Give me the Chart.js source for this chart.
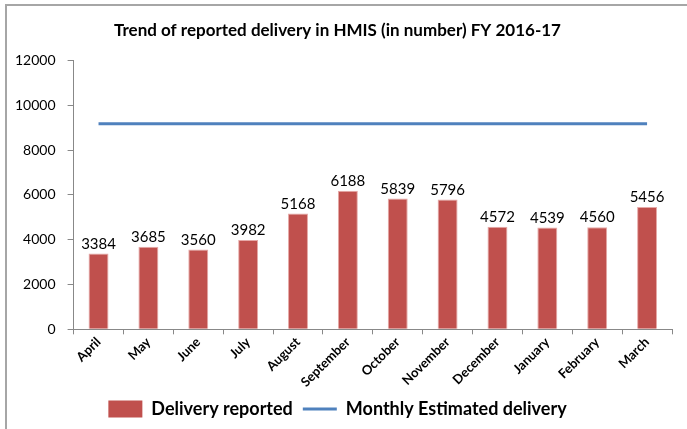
<!DOCTYPE html>
<html>
<head>
<meta charset="utf-8">
<script src="https://cdn.jsdelivr.net/npm/chart.js@4"></script>
<style>
  html, body { margin: 0; padding: 0; background: #fff; }
  #wrap { width: 687px; height: 429px; position: relative; }
</style>
</head>
<body>
<div id="wrap"><canvas id="deliveryChart" width="687" height="429"></canvas></div>
<script>
// Data
var months = ['April', 'May', 'June', 'July', 'August', 'September', 'October',
              'November', 'December', 'January', 'February', 'March'];
var deliveryReported = [3384, 3685, 3560, 3982, 5168, 6188, 5839, 5796, 4572, 4539, 4560, 5456];
var monthlyEstimated = [9170, 9170, 9170, 9170, 9170, 9170, 9170, 9170, 9170, 9170, 9170, 9170];
var yTicks = [0, 2000, 4000, 6000, 8000, 10000, 12000];

var FONT = "Lato, 'Open Sans', sans-serif";

// grey frame on the left and top, like the pasted excel chart
var framePlugin = {
    id: 'frame',
    beforeDraw: function(chart) {
        var c = chart.ctx;
        c.save();
        c.fillStyle = '#ffffff';
        c.fillRect(0, 0, chart.width, chart.height);
        c.fillStyle = '#a6a6a6';
        c.fillRect(5, 4, 2, chart.height - 4);
        c.fillRect(5, 4, chart.width - 5, 2);
        c.restore();
    }
};

// value labels above the bars
var barLabels = {
    id: 'barLabels',
    afterDatasetsDraw: function(chart) {
        var c = chart.ctx;
        var meta = chart.getDatasetMeta(0);
        c.save();
        c.font = '15px ' + FONT;
        c.fillStyle = '#000';
        c.textAlign = 'center';
        c.textBaseline = 'bottom';
        meta.data.forEach(function(bar, i) {
            c.fillText(deliveryReported[i], bar.x, bar.y - 2);
        });
        c.restore();
    }
};

var ctx = document.getElementById('deliveryChart');
var myChart = new Chart(ctx, {
    type: 'bar',
    data: {
        labels: months,
        datasets: [{
            type: 'bar',
            label: 'Delivery reported',
            data: deliveryReported,
            backgroundColor: '#C0504D',
            borderColor: '#E6A9A7',
            borderWidth: 1,
            barPercentage: 0.5,
            categoryPercentage: 0.8,
            order: 2
        }, {
            type: 'line',
            label: 'Monthly Estimated delivery',
            data: monthlyEstimated,
            borderColor: '#4F81BD',
            backgroundColor: '#4F81BD',
            borderWidth: 3,
            pointRadius: 0,
            fill: false,
            order: 1
        }]
    },
    options: {
        responsive: false,
        animation: false,
        layout: {
            padding: { left: 3, right: 15, top: 18, bottom: 1 }
        },
        scales: {
            x: {
                grid: {
                    drawOnChartArea: false,
                    drawTicks: true,
                    tickLength: 5,
                    color: '#888'
                },
                border: { color: '#888' },
                ticks: {
                    color: '#000',
                    font: { family: FONT, size: 13, weight: 'bold' },
                    minRotation: 45,
                    maxRotation: 45,
                    autoSkip: false,
                    padding: 0
                }
            },
            y: {
                min: 0,
                max: 12000,
                afterBuildTicks: function(axis) {
                    axis.ticks = yTicks.map(function(v) { return { value: v }; });
                },
                grid: {
                    drawOnChartArea: false,
                    drawTicks: true,
                    tickLength: 6,
                    color: '#888'
                },
                border: { color: '#888' },
                ticks: {
                    color: '#000',
                    font: { family: FONT, size: 14 },
                    padding: 12,
                    callback: function(value) { return String(value); }
                }
            }
        },
        plugins: {
            title: {
                display: true,
                text: 'Trend of reported delivery in HMIS (in number) FY 2016-17',
                color: '#000',
                font: { family: FONT, size: 17, weight: 'bold' },
                padding: { top: 2, bottom: 20 }
            },
            legend: {
                position: 'bottom',
                labels: {
                    color: '#000',
                    font: { family: FONT, size: 18, weight: 'bold' },
                    usePointStyle: true,
                    pointStyleWidth: 34,
                    boxHeight: 17,
                    padding: 10,
                    generateLabels: function(chart) {
                        return chart.data.datasets.map(function(ds, i) {
                            return {
                                text: ds.label,
                                fillStyle: ds.backgroundColor,
                                strokeStyle: i === 0 ? ds.backgroundColor : ds.borderColor,
                                lineWidth: i === 0 ? 0 : 3,
                                pointStyle: i === 0 ? 'rect' : 'line',
                                fontColor: '#000',
                                datasetIndex: i
                            };
                        });
                    }
                }
            },
            tooltip: { enabled: false }
        }
    },
    plugins: [framePlugin, barLabels]
});
</script>
</body>
</html>
